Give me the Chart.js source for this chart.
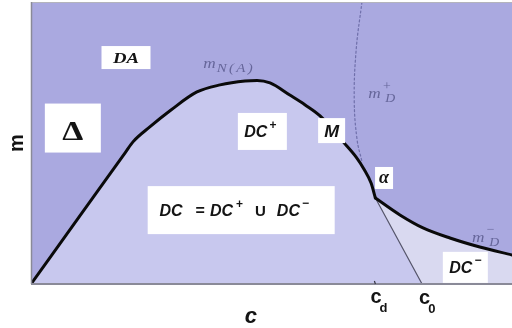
<!DOCTYPE html>
<html>
<head>
<meta charset="utf-8">
<script src="https://cdn.jsdelivr.net/npm/chart.js@4/dist/chart.umd.min.js"></script>
<style>
  html, body { margin: 0; padding: 0; background: #ffffff; }
  canvas { display: block; }
</style>
</head>
<body>
<canvas id="phase" width="512" height="328"></canvas>
<script>
// Boundary curve (m_N(A) rising branch, then m_D^- branch), c on x, m on y
const curveC = [0, 10.6, 19.6, 21.2, 24.7, 29.1, 34.5, 39.3, 44.5, 47.0, 49.7, 53.8, 57.0, 60.1, 64.9, 67.6, 69.2, 70.7, 71.6, 76.7, 81.5, 87.1, 93.3, 100];
const curveM = [0, 25.2, 46.6, 50.4, 55.7, 61.7, 68.1, 70.6, 72.0, 72.2, 71.3, 67.0, 63.5, 59.6, 50.4, 45.0, 40.8, 35.8, 30.5, 24.5, 19.9, 16.3, 13.1, 10.3];

// Point alpha on the curve (where the two branches meet) and the marked abscissae
const alphaIndex = 18;
const cD = 71.6;
const c0 = 81.3;

// Dotted curve m_D^+
const mdPlusC = [68.8, 67.6, 67.2, 67.8, 68.8];
const mdPlusM = [100, 83, 65.2, 51.1, 43.5];

// Region labels (boxed) and their anchor points in (c, m)
const regionText = ['DA', 'Δ', 'DC', 'M', 'α', 'DC = DC+ U DC−', 'DC'];
const regionC = [19.75, 8.7, 48.1, 62.5, 73.4, 43.7, 90.3];
const regionM = [80.3, 55.3, 54.1, 54.4, 37.6, 26.2, 5.9];

// Axis title position along c
const cTitleAt = 45.7;

const COLORS = {
  upper: '#aaa9e0',
  dc: '#c8c8ee',
  dcMinus: '#d9d9f0',
  frame: '#8a8a98'
};

const SERIF = '"Liberation Serif", "DejaVu Serif", serif';
const SANS = '"Liberation Sans", Arial, sans-serif';

const pts = (xs, ys) => xs.map((x, i) => ({ x, y: ys[i] }));
const curve = pts(curveC, curveM);
const risingBranch = curve.slice(0, alphaIndex + 1);
const minusBranch = curve.slice(alphaIndex);
const alphaPt = curve[alphaIndex];
const alphaToC0 = [alphaPt, { x: c0, y: 0 }];
// wedge under alpha->c0, started one point earlier so it overlaps the rising-branch fill
const dcWedge = [curve[alphaIndex - 1], alphaPt, { x: c0, y: 0 }];

// draws a sequence of text runs; runs with `stack` don't advance the pen
function drawRuns(ctx, x, y, runs, align, sx) {
  let total = 0;
  const widths = runs.map(r => {
    ctx.font = r.font;
    const w = ctx.measureText(r.t).width;
    total += (r.gap || 0) + (r.stack ? 0 : w);
    return w;
  });
  ctx.save();
  ctx.translate(x, y);
  ctx.scale(sx || 1, 1);
  let pen = align === 'center' ? -total / 2 : 0;
  runs.forEach((r, i) => {
    pen += r.gap || 0;
    ctx.font = r.font;
    ctx.fillStyle = r.color || '#141414';
    ctx.textBaseline = 'alphabetic';
    ctx.textAlign = 'left';
    ctx.fillText(r.t, pen, r.dy || 0);
    if (!r.stack) pen += widths[i];
  });
  ctx.restore();
}

const dcFont = 'italic bold 16px ' + SANS;
const dcSup = 'bold 12px ' + SANS;
const mathCol = '#66669a';

// box size (px), text offsets and runs for each region label
const regionStyle = [
  { w: 49, h: 23, base: 5.5, sx: 1.25, runs: [{ t: regionText[0], font: 'italic bold 15px ' + SERIF }] },
  { w: 56, h: 49, base: 12, sx: 1.2, runs: [{ t: regionText[1], font: 'bold 28px ' + SERIF }] },
  { w: 49, h: 37, base: 5.5, ox: -2, sx: 1.0, runs: [{ t: 'DC', font: dcFont }, { t: '+', font: dcSup, dy: -8, gap: 2 }] },
  { w: 27, h: 25, base: 6, sx: 1.05, runs: [{ t: regionText[3], font: 'italic bold 17px ' + SANS }] },
  { w: 18, h: 22, base: 5, sx: 1.0, runs: [{ t: regionText[4], font: 'italic bold 18px ' + SERIF }] },
  { w: 187, h: 48, base: 6, ox: -7, sx: 1.0, runs: [
      { t: 'DC', font: dcFont },
      { t: '=', font: 'bold 16px ' + SANS, gap: 13 },
      { t: 'DC', font: dcFont, gap: 5 },
      { t: '+', font: dcSup, dy: -8, gap: 3 },
      { t: 'U', font: 'bold 15px ' + SANS, gap: 12 },
      { t: 'DC', font: dcFont, gap: 11 },
      { t: '−', font: dcSup, dy: -9, gap: 2 }
    ] },
  { w: 45, h: 31, base: 6, sx: 1.0, runs: [{ t: 'DC', font: dcFont }, { t: '−', font: dcSup, dy: -9, gap: 2 }] }
];

const phasePlugin = {
  id: 'phaseDiagram',
  beforeDatasetsDraw(chart) {
    const { ctx, chartArea: a } = chart;
    ctx.save();
    ctx.fillStyle = COLORS.upper;
    ctx.fillRect(a.left, a.top, a.right - a.left, a.bottom - a.top);
    ctx.restore();
  },
  afterDatasetsDraw(chart) {
    const { ctx, chartArea: a, scales: { x, y } } = chart;
    ctx.save();

    // frame
    ctx.strokeStyle = '#b4b4bc';
    ctx.lineWidth = 1;
    ctx.beginPath(); ctx.moveTo(a.left, a.top + 0.5); ctx.lineTo(a.right, a.top + 0.5); ctx.stroke();
    ctx.strokeStyle = COLORS.frame;
    ctx.lineWidth = 1.5;
    ctx.beginPath(); ctx.moveTo(a.left + 0.5, a.top); ctx.lineTo(a.left + 0.5, a.bottom); ctx.stroke();
    ctx.lineWidth = 2;
    ctx.beginPath(); ctx.moveTo(a.left, a.bottom); ctx.lineTo(a.right, a.bottom); ctx.stroke();

    // tick at c_d
    ctx.strokeStyle = '#333340';
    ctx.lineWidth = 1.2;
    ctx.beginPath(); ctx.moveTo(x.getPixelForValue(cD) - 1, a.bottom - 3); ctx.lineTo(x.getPixelForValue(cD), a.bottom); ctx.stroke();

    // boxed region labels
    regionStyle.forEach((s, i) => {
      const px = x.getPixelForValue(regionC[i]);
      const py = y.getPixelForValue(regionM[i]);
      ctx.fillStyle = '#ffffff';
      ctx.fillRect(px - s.w / 2, py - s.h / 2, s.w, s.h);
      drawRuns(ctx, px + (s.ox || 0), py + s.base, s.runs, 'center', s.sx);
    });

    // curve names
    drawRuns(ctx, x.getPixelForValue(35.8), y.getPixelForValue(76.6), [
      { t: 'm', font: 'italic 15px ' + SERIF, color: mathCol },
      { t: 'N', font: 'italic 13px ' + SERIF, color: mathCol, dy: 4, gap: 1 },
      { t: '(', font: 'italic 13px ' + SERIF, color: mathCol, dy: 4, gap: 2 },
      { t: 'A', font: 'italic 13px ' + SERIF, color: mathCol, dy: 4, gap: 2 },
      { t: ')', font: 'italic 13px ' + SERIF, color: mathCol, dy: 4, gap: 2 }
    ], 'left', 1.15);
    drawRuns(ctx, x.getPixelForValue(70.1), y.getPixelForValue(66.0), [
      { t: 'm', font: 'italic 15px ' + SERIF, color: mathCol },
      { t: '+', font: '12px ' + SERIF, color: mathCol, dy: -8, gap: 2, stack: true },
      { t: 'D', font: 'italic 12px ' + SERIF, color: mathCol, dy: 4, gap: 2 }
    ], 'left', 1.15);
    drawRuns(ctx, x.getPixelForValue(91.7), y.getPixelForValue(14.9), [
      { t: 'm', font: 'italic 15px ' + SERIF, color: mathCol },
      { t: '−', font: '12px ' + SERIF, color: mathCol, dy: -9, gap: 2, stack: true },
      { t: 'D', font: 'italic 12px ' + SERIF, color: mathCol, dy: 4, gap: 2 }
    ], 'left', 1.15);

    // axis titles
    ctx.save();
    ctx.translate(a.left - 15, (a.top + a.bottom) / 2);
    ctx.rotate(-Math.PI / 2);
    drawRuns(ctx, 0, 7, [{ t: 'm', font: 'bold 20px ' + SANS }], 'center', 1);
    ctx.restore();
    drawRuns(ctx, x.getPixelForValue(cTitleAt), a.bottom + 39, [{ t: 'c', font: 'italic bold 22px ' + SANS }], 'center', 1);

    // marked abscissae
    drawRuns(ctx, x.getPixelForValue(cD) - 5, a.bottom + 19, [
      { t: 'c', font: 'bold 20px ' + SANS },
      { t: 'd', font: 'bold 13px ' + SANS, dy: 9, gap: -2 }
    ], 'left', 1);
    drawRuns(ctx, x.getPixelForValue(c0) - 3, a.bottom + 20, [
      { t: 'c', font: 'bold 20px ' + SANS },
      { t: '0', font: 'bold 13px ' + SANS, dy: 9, gap: -2 }
    ], 'left', 1);

    ctx.restore();
  }
};

const smooth = { cubicInterpolationMode: 'monotone', pointRadius: 0 };

new Chart(document.getElementById('phase'), {
  type: 'line',
  data: {
    datasets: [
      { data: minusBranch, fill: 'origin', backgroundColor: COLORS.dcMinus, borderWidth: 0, order: 7, ...smooth },
      { data: risingBranch, fill: 'origin', backgroundColor: COLORS.dc, borderWidth: 0, order: 6, ...smooth },
      { data: dcWedge, fill: 'origin', backgroundColor: COLORS.dc, borderWidth: 0, pointRadius: 0, order: 5 },
      { data: alphaToC0, fill: false, borderColor: '#55556a', borderWidth: 1.2, pointRadius: 0, order: 4 },
      { data: pts(mdPlusC, mdPlusM), fill: false, borderColor: '#6f6faa', borderWidth: 1.2, borderDash: [2, 2.5], pointRadius: 0, tension: 0.4, order: 3 },
      { data: risingBranch, fill: false, borderColor: '#0a0a0a', borderWidth: 3, order: 2, ...smooth },
      { data: minusBranch, fill: false, borderColor: '#0a0a0a', borderWidth: 3, order: 1, ...smooth }
    ]
  },
  options: {
    responsive: false,
    animation: false,
    devicePixelRatio: 1,
    layout: { padding: { left: 31, top: 2, right: 0, bottom: 44 } },
    scales: {
      x: { type: 'linear', min: 0, max: 100, display: false },
      y: { type: 'linear', min: 0, max: 100, display: false }
    },
    plugins: { legend: { display: false }, tooltip: { enabled: false } },
    elements: { line: { tension: 0, borderJoinStyle: 'round', borderCapStyle: 'round' } }
  },
  plugins: [phasePlugin]
});
</script>
</body>
</html>
